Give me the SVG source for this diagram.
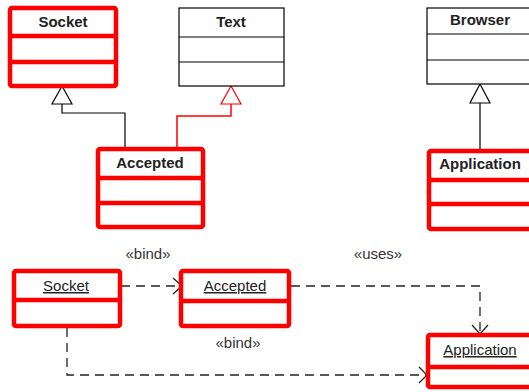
<svg xmlns="http://www.w3.org/2000/svg" width="529" height="392" viewBox="0 0 529 392">
<style>
.red{fill:#fff;stroke:#ff0000;stroke-width:4.5;stroke-linejoin:round}
.redl{stroke:#ff0000;stroke-width:4.5;fill:none}
.blk{fill:#fff;stroke:#000;stroke-width:1.2}
.blkl{stroke:#000;stroke-width:1.2;fill:none}
.t{font-family:"Liberation Sans",Arial,sans-serif;font-size:15px;fill:#222;text-anchor:middle}
.b{font-weight:bold}
.u{text-decoration:underline}
.lbl{font-family:"Liberation Sans",Arial,sans-serif;font-size:15px;fill:#333;text-anchor:middle}
.dash{fill:none;stroke:#222;stroke-width:1.3;stroke-dasharray:9,6}
.ah{fill:none;stroke:#222;stroke-width:1.3}
</style>
<rect width="529" height="392" fill="#fff"/>
<g id="connectors">
  <polyline class="blkl" points="62,104 62,113 125,113 125,149"/>
  <polygon points="62,86 52,104 72,104" fill="#fff" stroke="#000" stroke-width="1.2"/>
  <polyline points="231,104 231,116 177,116 177,149" fill="none" stroke="#ff0000" stroke-width="1.5"/>
  <polygon points="231,86 221,104 241,104" fill="#fff" stroke="#ff0000" stroke-width="1.2"/>
  <line class="blkl" x1="480" y1="103" x2="480" y2="150"/>
  <polygon points="480,84 470,103 490,103" fill="#fff" stroke="#000" stroke-width="1.2"/>
  <line class="dash" x1="121" y1="286" x2="181" y2="286"/>
  <polyline class="ah" points="173,278 182,286 173,294"/>
  <polyline class="dash" points="291,286 480,286 480,332"/>
  <polyline class="ah" points="472,325 480,334 488,325"/>
  <polyline class="dash" points="67,328 67,375 426,375"/>
  <polyline class="ah" points="419,367 427,375 419,383"/>
  <text class="lbl" x="148" y="259">«bind»</text>
  <text class="lbl" x="238" y="348">«bind»</text>
  <text class="lbl" x="378" y="259">«uses»</text>
</g>
<g id="socket">
  <rect class="red" x="10" y="8" width="106" height="78" rx="2"/>
  <line class="redl" x1="10" y1="36" x2="116" y2="36"/>
  <line class="redl" x1="10" y1="62" x2="116" y2="62"/>
  <text class="t b" x="63" y="27">Socket</text>
</g>
<g id="text">
  <rect class="blk" x="179" y="8" width="105" height="78"/>
  <line class="blkl" x1="179" y1="37" x2="284" y2="37"/>
  <line class="blkl" x1="179" y1="62" x2="284" y2="62"/>
  <text class="t b" x="231" y="27">Text</text>
</g>
<g id="browser">
  <rect class="blk" x="427" y="8" width="106" height="76"/>
  <line class="blkl" x1="427" y1="34" x2="533" y2="34"/>
  <line class="blkl" x1="427" y1="60" x2="533" y2="60"/>
  <text class="t b" x="480" y="25">Browser</text>
</g>
<g id="accepted">
  <rect class="red" x="98" y="149" width="105" height="78" rx="2"/>
  <line class="redl" x1="98" y1="178" x2="203" y2="178"/>
  <line class="redl" x1="98" y1="203" x2="203" y2="203"/>
  <text class="t b" x="150" y="168">Accepted</text>
</g>
<g id="application">
  <rect class="red" x="429" y="151" width="106" height="78" rx="2"/>
  <line class="redl" x1="429" y1="180" x2="535" y2="180"/>
  <line class="redl" x1="429" y1="204" x2="535" y2="204"/>
  <text class="t b" x="480" y="169">Application</text>
</g>
<g id="socket-instance">
  <rect class="red" x="14" y="271" width="106" height="55" rx="2"/>
  <line class="redl" x1="14" y1="300" x2="120" y2="300"/>
  <text class="t u" x="66" y="291">Socket</text>
</g>
<g id="accepted-instance">
  <rect class="red" x="181" y="271" width="108" height="55" rx="2"/>
  <line class="redl" x1="181" y1="301" x2="289" y2="301"/>
  <text class="t u" x="235" y="291">Accepted</text>
</g>
<g id="application-instance">
  <rect class="red" x="428" y="335" width="106" height="52" rx="2"/>
  <line class="redl" x1="428" y1="367" x2="534" y2="367"/>
  <text class="t u" x="480" y="355">Application</text>
</g>
</svg>
